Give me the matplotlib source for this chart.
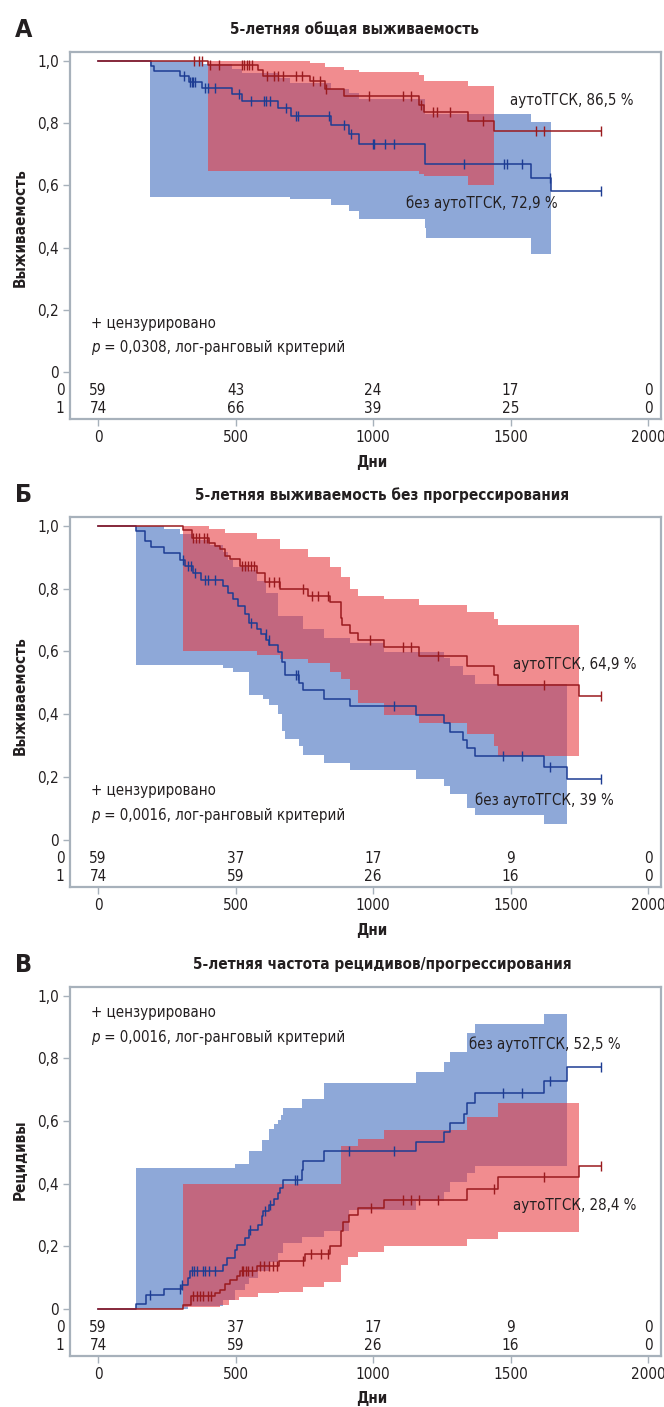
import numpy as np
import matplotlib
matplotlib.use('Agg')
import matplotlib.pyplot as plt
from matplotlib import font_manager

# ---------------- data ----------------
risk_days = [0, 500, 1000, 1500, 2000]

# A: overall survival
a_red_t = [0, 398, 581, 601, 771, 825, 896, 1168, 1185, 1344, 1440]
a_red_s = [1.0, 0.987, 0.969, 0.952, 0.935, 0.909, 0.888, 0.858, 0.834, 0.806, 0.775]
a_red_cens = [349, 367, 378, 407, 440, 522, 530, 540, 550, 558, 613, 640, 655, 672, 720, 742,
              780, 807, 830, 987, 1108, 1137, 1175, 1218, 1234, 1280, 1400, 1592, 1622, 1828]
a_red_band_t = [398, 601, 771, 827, 896, 950, 1168, 1185, 1344, 1440]
a_red_lo = [0.645, 0.645, 0.645, 0.645, 0.645, 0.645, 0.637, 0.629, 0.601, 0.601]
a_red_hi = [1.0, 0.998, 0.993, 0.981, 0.971, 0.965, 0.954, 0.936, 0.918, 0.918]

a_blue_t = [0, 191, 205, 298, 330, 377, 486, 525, 656, 701, 846, 914, 950, 1189, 1575, 1647]
a_blue_s = [1.0, 0.982, 0.967, 0.950, 0.933, 0.912, 0.892, 0.872, 0.847, 0.823, 0.793, 0.764,
            0.734, 0.667, 0.625, 0.581]
a_blue_cens = [314, 335, 340, 345, 352, 389, 398, 425, 513, 556, 603, 609, 625, 682, 720, 728,
               840, 895, 920, 999, 1004, 1044, 1076, 1331, 1476, 1488, 1541, 1644, 1828]
a_blue_band_t = [190, 377, 486, 525, 656, 698, 846, 914, 950, 1189, 1192, 1575, 1647]
a_blue_lo = [0.564, 0.564, 0.564, 0.564, 0.564, 0.557, 0.538, 0.519, 0.493, 0.464, 0.43, 0.38, 0.38]
a_blue_hi = [1.0, 0.99, 0.975, 0.962, 0.945, 0.93, 0.91, 0.895, 0.878, 0.828, 0.828, 0.802, 0.802]

a_risk0 = [59, 43, 24, 17, 0]
a_risk1 = [74, 66, 39, 25, 0]

# B: progression-free survival
b_red_t = [0, 308, 341, 405, 425, 444, 462, 480, 516, 577, 607, 662, 765, 844, 882, 888, 916,
           947, 1038, 1168, 1343, 1440, 1453, 1750]
b_red_s = [1.0, 0.987, 0.961, 0.945, 0.937, 0.926, 0.905, 0.893, 0.872, 0.85, 0.822, 0.798,
           0.777, 0.756, 0.708, 0.683, 0.659, 0.635, 0.614, 0.586, 0.555, 0.526, 0.494, 0.459]
b_red_cens = [346, 357, 368, 385, 397, 525, 535, 545, 557, 568, 622, 640, 658, 747, 777, 800,
              837, 989, 1108, 1137, 1235, 1622, 1828]
b_red_band_t = [308, 405, 462, 577, 662, 765, 844, 882, 916, 947, 1038, 1168, 1343, 1440, 1453, 1750]
b_red_lo = [0.6, 0.6, 0.6, 0.589, 0.575, 0.562, 0.536, 0.511, 0.478, 0.435, 0.399, 0.371, 0.336,
            0.3, 0.266, 0.266]
b_red_hi = [1.0, 0.99, 0.978, 0.957, 0.926, 0.9, 0.868, 0.836, 0.799, 0.775, 0.766, 0.747, 0.727,
            0.703, 0.684, 0.684]

b_blue_t = [0, 138, 171, 192, 238, 298, 315, 345, 375, 456, 474, 491, 509, 535, 548, 577, 594,
            612, 622, 656, 669, 678, 729, 747, 823, 916, 1156, 1258, 1280, 1328, 1340, 1371,
            1623, 1704]
b_blue_s = [1.0, 0.982, 0.95, 0.934, 0.913, 0.892, 0.871, 0.85, 0.826, 0.808, 0.787, 0.766,
            0.745, 0.72, 0.69, 0.67, 0.654, 0.635, 0.619, 0.598, 0.567, 0.525, 0.5, 0.476, 0.447,
            0.425, 0.399, 0.372, 0.345, 0.319, 0.292, 0.268, 0.232, 0.193]
b_blue_cens = [310, 327, 339, 352, 389, 401, 425, 556, 609, 621, 720, 727, 1076, 1474, 1541,
               1644, 1828]
b_blue_band_t = [138, 238, 298, 345, 407, 456, 474, 491, 548, 577, 598, 612, 622, 656, 669, 678,
                 729, 747, 823, 916, 1038, 1156, 1258, 1280, 1328, 1340, 1371, 1623, 1704]
b_blue_lo = [0.558, 0.558, 0.558, 0.558, 0.558, 0.548, 0.548, 0.535, 0.462, 0.462, 0.45, 0.45,
             0.43, 0.4, 0.347, 0.32, 0.3, 0.27, 0.245, 0.222, 0.222, 0.193, 0.171, 0.145, 0.145,
             0.1, 0.078, 0.05, 0.05]
b_blue_hi = [0.998, 0.99, 0.975, 0.955, 0.94, 0.915, 0.89, 0.87, 0.86, 0.824, 0.824, 0.787,
             0.787, 0.712, 0.712, 0.712, 0.712, 0.67, 0.643, 0.628, 0.598, 0.598, 0.58, 0.555,
             0.524, 0.524, 0.497, 0.497, 0.497]

b_risk0 = [59, 37, 17, 9, 0]
b_risk1 = [74, 59, 26, 16, 0]

# C: cumulative incidence of relapse / progression
c_red_t = [0, 310, 337, 425, 444, 462, 480, 504, 516, 577, 659, 752, 845, 883, 890, 914, 945,
           1038, 1343, 1453, 1750]
c_red_s = [0.0, 0.013, 0.042, 0.05, 0.061, 0.08, 0.093, 0.106, 0.12, 0.136, 0.152, 0.175, 0.2,
           0.25, 0.278, 0.301, 0.322, 0.349, 0.384, 0.421, 0.458]
c_red_cens = [347, 359, 371, 383, 398, 410, 522, 528, 537, 546, 558, 589, 604, 620, 636, 650,
              744, 775, 810, 837, 991, 1108, 1137, 1168, 1235, 1440, 1622, 1828]
c_red_band_t = [310, 444, 475, 513, 582, 659, 744, 821, 883, 909, 945, 1038, 1343, 1453, 1750]
c_red_lo = [0.005, 0.014, 0.028, 0.038, 0.051, 0.054, 0.07, 0.086, 0.139, 0.166, 0.181, 0.2,
            0.224, 0.245, 0.245]
c_red_hi = [0.4, 0.4, 0.4, 0.4, 0.4, 0.4, 0.4, 0.4, 0.52, 0.52, 0.544, 0.571, 0.614, 0.657, 0.657]

c_blue_t = [0, 138, 175, 238, 304, 328, 333, 456, 468, 498, 504, 535, 548, 583, 595, 601, 620,
            640, 656, 662, 674, 741, 747, 822, 1156, 1258, 1280, 1331, 1340, 1371, 1623, 1704]
c_blue_s = [0.0, 0.017, 0.045, 0.064, 0.077, 0.099, 0.12, 0.141, 0.162, 0.187, 0.205, 0.227,
            0.253, 0.269, 0.296, 0.312, 0.333, 0.351, 0.371, 0.387, 0.413, 0.445, 0.472, 0.504,
            0.534, 0.565, 0.595, 0.622, 0.657, 0.689, 0.728, 0.774]
c_blue_cens = [189, 298, 306, 341, 349, 361, 381, 389, 405, 425, 553, 607, 625, 716, 725, 914,
               1076, 1474, 1541, 1644, 1828]
c_blue_band_t = [138, 298, 328, 456, 498, 535, 548, 583, 595, 620, 640, 656, 665, 674, 741, 822,
                 914, 1156, 1258, 1280, 1340, 1371, 1623, 1704]
c_blue_lo = [0.0, 0.0, 0.01, 0.03, 0.06, 0.08, 0.1, 0.12, 0.12, 0.15, 0.15, 0.18, 0.18, 0.21,
             0.23, 0.25, 0.315, 0.344, 0.375, 0.405, 0.435, 0.456, 0.456, 0.456]
c_blue_hi = [0.449, 0.449, 0.449, 0.449, 0.462, 0.462, 0.504, 0.504, 0.541, 0.576, 0.59, 0.604,
             0.62, 0.643, 0.67, 0.723, 0.723, 0.757, 0.789, 0.821, 0.881, 0.909, 0.941, 0.941]

c_risk0 = [59, 37, 17, 9, 0]
c_risk1 = [74, 59, 26, 16, 0]

# ---------------- style ----------------
names = {f.name for f in font_manager.fontManager.ttflist}
narrow = 'Liberation Sans Narrow' if 'Liberation Sans Narrow' in names else 'DejaVu Sans'
plt.rcParams['font.family'] = [narrow, 'DejaVu Sans']
if narrow == 'DejaVu Sans':
    plt.rcParams['font.stretch'] = 'condensed'

BLUE_LINE = '#1d3c93'
RED_LINE = '#9a1a1e'
BLUE_BAND = '#8ea8d8'
RED_BAND = '#e8393f'
FRAME = '#a7b1bb'
TXT = '#231f20'
FS = 11
FS_NOTE = 10.8

W, H = 664, 1407
fig = plt.figure(figsize=(W / 100, H / 100), dpi=100)


def px_axes(top, bottom):
    return fig.add_axes([70 / W, 1 - bottom / H, (661 - 70) / W, (bottom - top) / H])


def step_value(t, s, x):
    idx = np.searchsorted(t, x, side='right') - 1
    return np.asarray(s)[idx]


def km(ax, t, s, cens, color, end=1828):
    ax.step(t + [end], s + [s[-1]], where='post', color=color, lw=1.1, zorder=5)
    ax.plot(cens, step_value(t, s, cens), ls='none', marker='|', ms=7.5, mew=1.0,
            color=color, zorder=6)


def band(ax, t, lo, hi, color, alpha):
    ax.fill_between(t, lo, hi, step='post', color=color, alpha=alpha, lw=0, zorder=2)


def panel(ax, letter, title, title_x, ylabel, ylab_y, red, blue, risk0, risk1, notes):
    band(ax, blue[3], blue[4], blue[5], BLUE_BAND, 1.0)
    band(ax, red[3], red[4], red[5], RED_BAND, 0.58)
    km(ax, *blue[:3], BLUE_LINE)
    km(ax, *red[:3], RED_LINE)

    ax.set_xlim(-102, 2047)
    ax.set_ylim(-0.15, 1.028)
    ax.set_yticks([0, 0.2, 0.4, 0.6, 0.8, 1.0])
    ax.set_yticklabels(['0', '0,2', '0,4', '0,6', '0,8', '1,0'])
    ax.set_xticks(risk_days)
    ax.set_xticklabels([str(d) for d in risk_days])
    ax.tick_params(length=5, width=1.0, color=FRAME, labelsize=FS, labelcolor=TXT, pad=3)
    for sp in ax.spines.values():
        sp.set_color(FRAME)
        sp.set_linewidth(1.6)

    for d, n0, n1 in zip(risk_days, risk0, risk1):
        ax.text(d, -0.058, str(n0), ha='center', va='center', fontsize=FS, color=TXT)
        ax.text(d, -0.117, str(n1), ha='center', va='center', fontsize=FS, color=TXT)
    ax.text(-138, -0.058, '0', ha='center', va='center', fontsize=FS, color=TXT, clip_on=False)
    ax.text(-138, -0.117, '1', ha='center', va='center', fontsize=FS, color=TXT, clip_on=False)

    (cx, cy), (px_, py), p_str, lbls = notes
    ax.text(cx, cy, '+ цензурировано', fontsize=FS_NOTE, color=TXT, va='center')
    tp = ax.text(px_, py, 'p', fontsize=FS_NOTE, color=TXT, va='center', style='italic')
    ax.annotate(' = ' + p_str + ', лог-ранговый критерий', xy=(1, 0), xycoords=tp,
                va='bottom', ha='left', fontsize=FS_NOTE, color=TXT)
    for (x, y, s) in lbls:
        ax.text(x, y, s, fontsize=FS_NOTE, color=TXT, va='center', ha='left', zorder=7)

    pos = ax.get_position()
    top_px = (1 - pos.y1) * H
    bot_px = (1 - pos.y0) * H
    fig.text(24 / W, 1 - (top_px - 22) / H, letter, fontsize=18, fontweight='bold',
             ha='center', va='center', family='DejaVu Sans', color=TXT)
    fig.text(title_x / W, 1 - (top_px - 22) / H, title, fontsize=FS, fontweight='bold',
             ha='center', va='center', color=TXT)
    fig.text(20 / W, 1 - ylab_y / H, ylabel, fontsize=FS, fontweight='bold', rotation=90,
             ha='center', va='center', color=TXT)
    fig.text(372 / W, 1 - (bot_px + 43) / H, 'Дни', fontsize=FS, fontweight='bold',
             ha='center', va='center', color=TXT)


axA = px_axes(52, 419)
panel(axA, 'А', '5-летняя общая выживаемость', 354, 'Выживаемость', 228,
      (a_red_t, a_red_s, a_red_cens, a_red_band_t, a_red_lo, a_red_hi),
      (a_blue_t, a_blue_s, a_blue_cens, a_blue_band_t, a_blue_lo, a_blue_hi),
      a_risk0, a_risk1,
      ((-25, 0.157), (-25, 0.08), '0,0308',
       [(1498, 0.872, 'аутоТГСК, 86,5 %'), (1120, 0.542, 'без аутоТГСК, 72,9 %')]))

axB = px_axes(517, 887)
panel(axB, 'Б', '5-летняя выживаемость без прогрессирования', 382, 'Выживаемость', 696,
      (b_red_t, b_red_s, b_red_cens, b_red_band_t, b_red_lo, b_red_hi),
      (b_blue_t, b_blue_s, b_blue_cens, b_blue_band_t, b_blue_lo, b_blue_hi),
      b_risk0, b_risk1,
      ((-25, 0.158), (-25, 0.078), '0,0016',
       [(1509, 0.557, 'аутоТГСК, 64,9 %'), (1371, 0.126, 'без аутоТГСК, 39 %')]))

axC = px_axes(987, 1356)
panel(axC, 'В', '5-летняя частота рецидивов/прогрессирования', 382, 'Рецидивы', 1160,
      (c_red_t, c_red_s, c_red_cens, c_red_band_t, c_red_lo, c_red_hi),
      (c_blue_t, c_blue_s, c_blue_cens, c_blue_band_t, c_blue_lo, c_blue_hi),
      c_risk0, c_risk1,
      ((-25, 0.945), (-25, 0.868), '0,0016',
       [(1349, 0.845, 'без аутоТГСК, 52,5 %'), (1509, 0.330, 'аутоТГСК, 28,4 %')]))

fig.savefig('out.png', dpi=100)
